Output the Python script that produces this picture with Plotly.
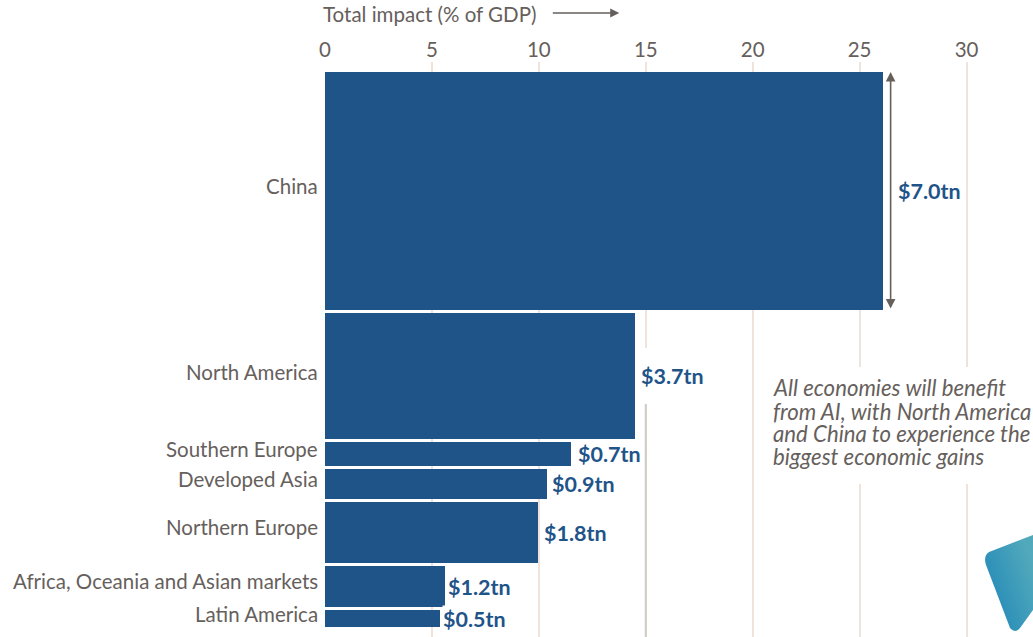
import plotly.graph_objects as go

regions = ["China", "North America", "Southern Europe", "Developed Asia", "Northern Europe",
           "Africa, Oceania and Asian markets", "Latin America"]
impact_pct_gdp = [26.1, 14.5, 11.5, 10.4, 9.95, 5.6, 5.4]
gain_trillions = [7.0, 3.7, 0.7, 0.9, 1.8, 1.2, 0.5]
gain_labels = ["$7.0tn", "$3.7tn", "$0.7tn", "$0.9tn", "$1.8tn", "$1.2tn", "$0.5tn"]
x_ticks = [0, 5, 10, 15, 20, 25, 30]
axis_title = "Total impact (% of GDP)"
comment_lines = ["All economies will benefit", "from AI, with North America",
                 "and China to experience the", "biggest economic gains"]

GREY = "#66605c"
BLUE = "#1f5489"
GRID = "#efe3dc"
W, H = 1033, 637
LEFT, TOP = 324.5, 62
PX_PER_X = 21.4
PX_PER_Y = 34
GAP = 3 / PX_PER_Y
BAR_TOP = 72


def px(v):
    return (v - LEFT) / (W - LEFT)


def py(v):
    return (H - v) / (H - TOP)


centers, pos = [], 0.0
for g in gain_trillions:
    centers.append(pos + g / 2)
    pos += g + GAP

x_max = (W - LEFT) / PX_PER_X
y_top = -(BAR_TOP - TOP) / PX_PER_Y
y_bottom = (H - BAR_TOP) / PX_PER_Y

fig = go.Figure(go.Bar(
    y=centers, x=impact_pct_gdp, width=gain_trillions, orientation="h",
    marker=dict(color=BLUE, line=dict(width=0)), hoverinfo="skip",
))

label_font = dict(family="Lato", size=20.5, color=GREY)
value_font = dict(family="Lato", size=21.5, color=BLUE, weight="bold")
label_lift = [5, 4, 5, 5, 6, 6, 5]
value_gap = [15, 6, 7, 5, 6.5, 3.5, 3]

annotations = []
for name, c, lift in zip(regions, centers, label_lift):
    annotations.append(dict(x=0, y=c, xref="x", yref="y", text=name, showarrow=False, xanchor="right",
                            xshift=-5, yshift=lift, font=label_font))
for v, c, t, g in zip(impact_pct_gdp, centers, gain_labels, value_gap):
    annotations.append(dict(x=v, y=c, xref="x", yref="y", text=t, showarrow=False, xanchor="left",
                            xshift=g - 1, font=value_font, bgcolor="white", borderpad=0))

# double-headed arrow spanning the height of the China bar
annotations.append(dict(x=impact_pct_gdp[0] + 0.35, y=0, ax=impact_pct_gdp[0] + 0.35, ay=gain_trillions[0],
                        xref="x", yref="y", axref="x", ayref="y", text="", showarrow=True,
                        arrowhead=2, arrowside="end+start", arrowsize=1.2, arrowwidth=1.6, arrowcolor=GREY))
# axis title and its arrow
annotations.append(dict(x=px(320), y=py(14), xref="paper", yref="paper", text=axis_title,
                        showarrow=False, xanchor="left", yanchor="middle", font=label_font))
annotations.append(dict(x=px(619), y=py(13), ax=-68, ay=0, xref="paper", yref="paper",
                        axref="pixel", ayref="pixel", text="", showarrow=True, arrowhead=2, arrowsize=1.3,
                        arrowwidth=1.4, arrowcolor=GREY))
# commentary, one annotation per line to hold the tight line pitch
for line, row in zip(comment_lines, [388, 411, 433, 456]):
    annotations.append(dict(x=px(771), y=py(row), xref="paper", yref="paper", xanchor="left", yanchor="middle",
                            showarrow=False, text=f"<i>{line}</i>",
                            font=dict(family="Lato", size=22.2, color=GREY)))

shapes = [
    # the 15 gridline turns darker below the North America label
    dict(type="line", xref="x", yref="y", x0=15, x1=15, y0=centers[1], y1=y_bottom, layer="between",
         line=dict(color="#cfcbc8", width=2)),
    # gap in the 15 gridline around the North America label
    dict(type="rect", xref="x", yref="y", x0=14.8, x1=15.2, y0=centers[1] - 28 / PX_PER_Y,
         y1=centers[1] + 28 / PX_PER_Y, layer="between", fillcolor="white", line=dict(width=0)),
    # gap in the 25 and 30 gridlines behind the commentary
    dict(type="rect", xref="x", yref="y", x0=24.5, x1=x_max, y0=(367 - BAR_TOP) / PX_PER_Y,
         y1=(484 - BAR_TOP) / PX_PER_Y, layer="between", fillcolor="white", line=dict(width=0)),
]

svg = ("data:image/svg+xml;utf8,<svg xmlns='http://www.w3.org/2000/svg' viewBox='0 0 50 102'>"
       "<defs><linearGradient id='g' x1='0' y1='1' x2='1' y2='0.3'>"
       "<stop offset='0' stop-color='%231b84b8'/><stop offset='1' stop-color='%2352a9bb'/></linearGradient></defs>"
       "<path d='M6 19 L50 2 L50 77 L37 95 Q32 101 27 95 L3 32 Q0 23 6 19 Z' fill='url(%23g)'/></svg>")

fig.update_layout(
    width=W, height=H, autosize=False,
    margin=dict(l=LEFT, r=0, t=TOP, b=0),
    paper_bgcolor="white", plot_bgcolor="white",
    showlegend=False, bargap=0,
    annotations=annotations,
    shapes=shapes,
    images=[dict(source=svg, xref="paper", yref="paper", x=px(983), y=py(533), sizex=50 / (W - LEFT),
                 sizey=102 / (H - TOP), xanchor="left", yanchor="top", sizing="stretch", layer="above")],
    xaxis=dict(side="top", range=[0, x_max], tickmode="array", tickvals=x_ticks, showgrid=True,
               gridcolor=GRID, gridwidth=1.5, zeroline=False, showline=False, ticks="",
               tickfont=dict(family="Lato", size=20.5, color=GREY)),
    yaxis=dict(range=[y_bottom, y_top], showticklabels=False, showgrid=False, zeroline=False,
               showline=False, ticks=""),
)
fig.write_html("out.html", config={"displayModeBar": False},
               post_script="document.body.style.margin='0';document.body.style.overflow='hidden';")
